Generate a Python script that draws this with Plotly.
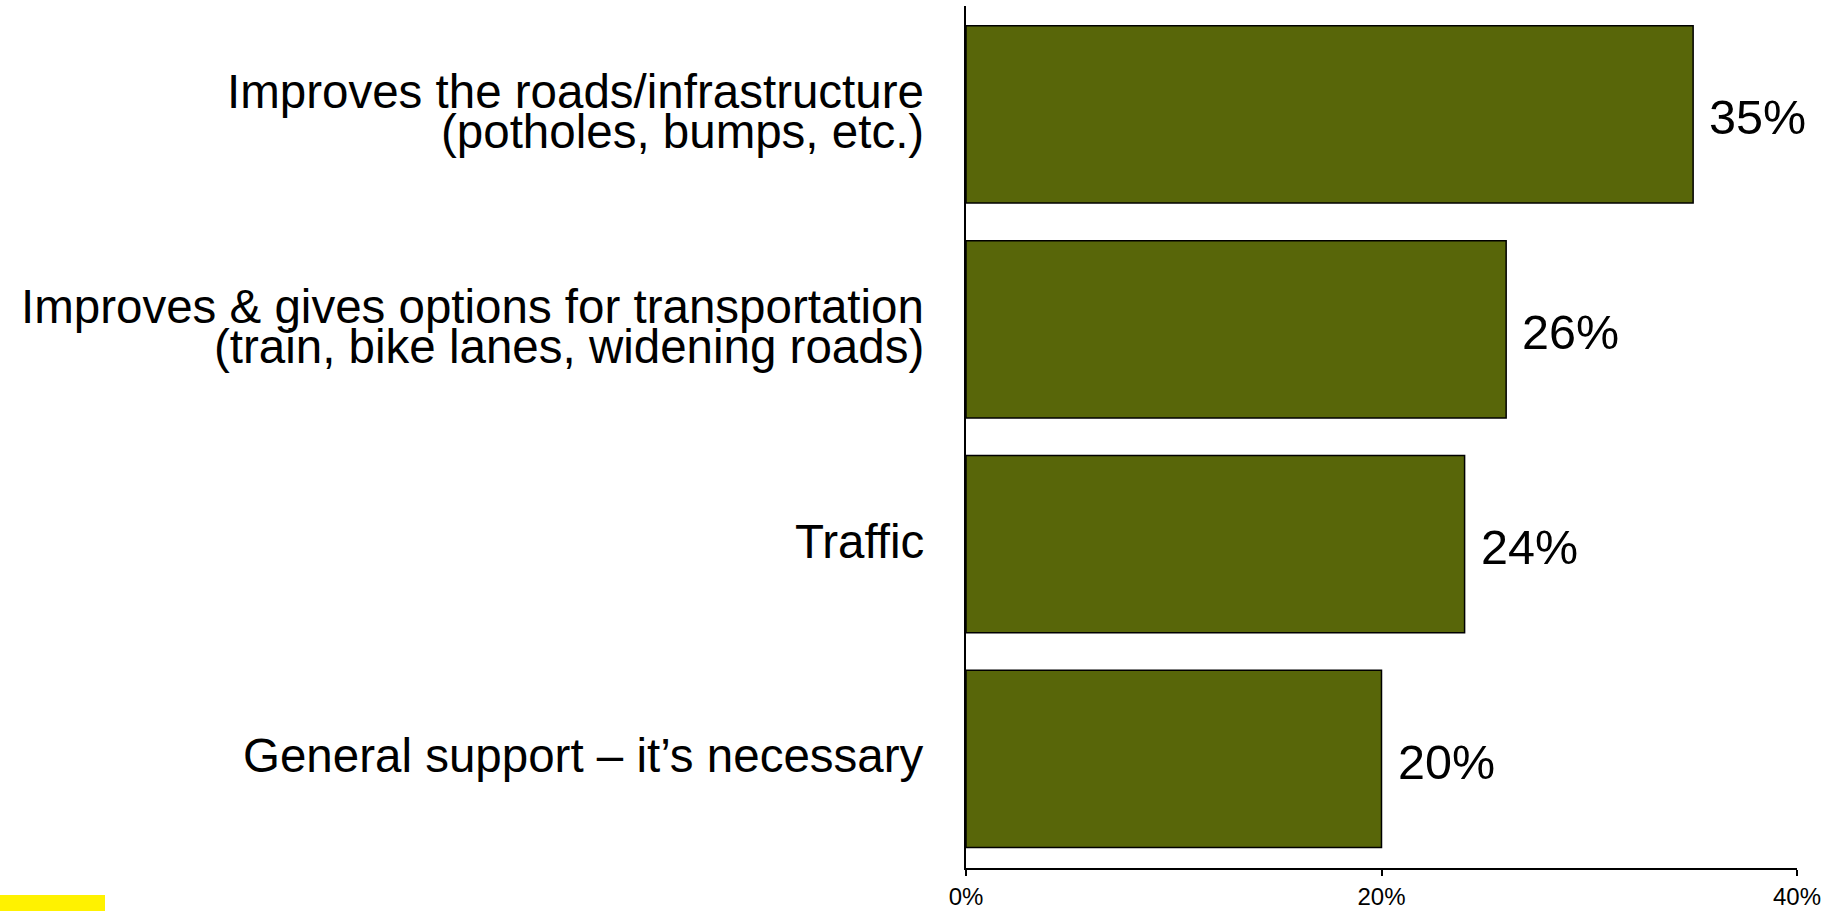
import plotly.graph_objects as go

categories = [
    "Improves the roads/infrastructure<br>(potholes, bumps, etc.)",
    "Improves & gives options for transportation<br>(train, bike lanes, widening roads)",
    "Traffic",
    "General support – it’s necessary",
]
values = [35, 26, 24, 20]
value_labels = ["35%", "26%", "24%", "20%"]
x_tickvals = [0, 20, 40]
x_ticktext = ["0%", "20%", "40%"]

BAR_COLOR = "#586609"
FONT = "Liberation Sans, Arial, sans-serif"

fig = go.Figure()
fig.add_trace(go.Bar(
    x=values,
    y=categories,
    orientation="h",
    width=0.825,
    marker=dict(color=BAR_COLOR, line=dict(color="black", width=1.5)),
    hoverinfo="skip",
))

annotations = []
# category labels (one annotation per line to match tight line spacing)
line_gap = 40
for cat in categories:
    lines = cat.split("<br>")
    n = len(lines)
    for i, ln in enumerate(lines):
        annotations.append(dict(
            text=ln, xref="paper", x=0, xanchor="right", xshift=-40,
            yref="y", y=cat, yanchor="middle",
            yshift=-(i - (n - 1) / 2) * line_gap + 3,
            showarrow=False, font=dict(family=FONT, size=47.5, color="black"),
        ))
# value labels
for cat, v, lbl in zip(categories, values, value_labels):
    annotations.append(dict(
        text=lbl, xref="x", x=v, xanchor="left", xshift=14,
        yref="y", y=cat, yanchor="middle", yshift=-3,
        showarrow=False, font=dict(family=FONT, size=48.5, color="black"),
    ))

fig.update_layout(
    template="none",
    width=1842, height=911,
    margin=dict(l=966, r=45, t=6, b=43, autoexpand=False),
    plot_bgcolor="white", paper_bgcolor="white",
    showlegend=False,
    annotations=annotations,
    shapes=[dict(
        type="rect", xref="paper", yref="paper",
        x0=-966 / 831, x1=(105 - 966) / 831,
        y0=-(911 - 868) / 862, y1=-(895 - 868) / 862,
        fillcolor="#FFF200", line=dict(width=0),
    )],
)
fig.update_xaxes(
    range=[0, 40], tickvals=x_tickvals, ticktext=x_ticktext,
    automargin=False,
    showline=True, linecolor="black", linewidth=1.5,
    ticks="outside", ticklen=6, tickwidth=1.5, tickcolor="black",
    showgrid=False, zeroline=False,
    tickfont=dict(family=FONT, size=24, color="black"),
)
fig.update_yaxes(
    range=[3.508, -0.505], showticklabels=False, automargin=False,
    showline=True, linecolor="black", linewidth=1.5,
    ticks="", showgrid=False, zeroline=False,
)

fig.write_html(
    "out.html",
    config={"displayModeBar": False},
    post_script=(
        "document.documentElement.style.margin='0';"
        "document.documentElement.style.overflow='hidden';"
        "document.body.style.margin='0';"
        "document.body.style.padding='0';"
        "document.body.style.overflow='hidden';"
    ),
)
